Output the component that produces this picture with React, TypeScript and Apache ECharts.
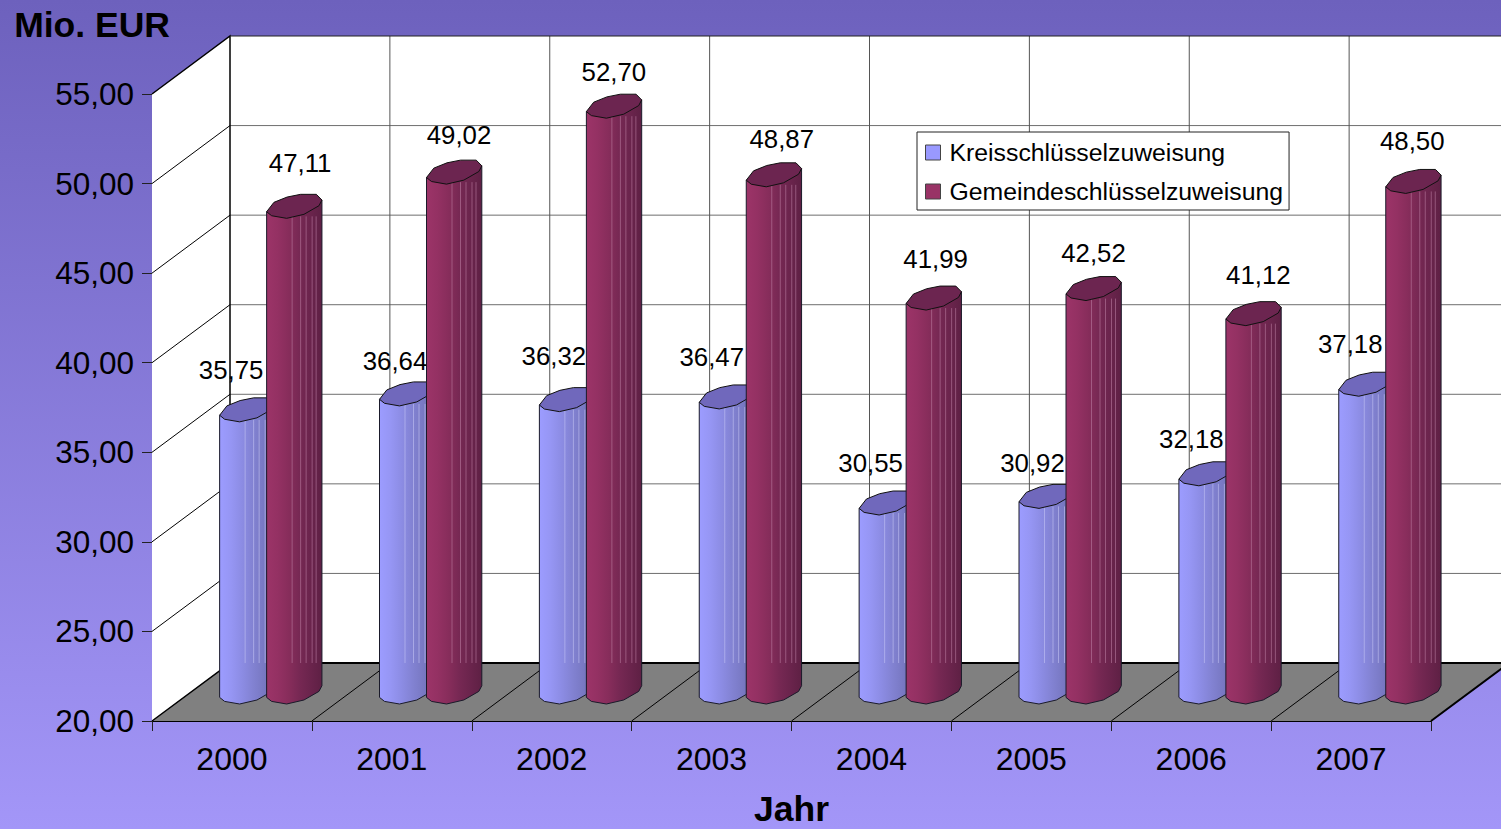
import React, { useEffect, useRef } from "react";
import * as echarts from "echarts";

const years = ["2000", "2001", "2002", "2003", "2004", "2005", "2006", "2007"];
const kreis = [35.75, 36.64, 36.32, 36.47, 30.55, 30.92, 32.18, 37.18];
const gemeinde = [47.11, 49.02, 52.7, 48.87, 41.99, 42.52, 41.12, 48.5];
const seriesNames = ["Kreisschlüsselzuweisung", "Gemeindeschlüsselzuweisung"];

// hand-placed value labels of the original, relative to the cylinder's top centre
const kreisLabelNudge = [[-16, -40], [-12, -33], [-13, -44], [-15, -40], [-16, -40], [-14, -33], [-15, -35], [-16, -40]];
const gemeindeLabelNudge = [[6, -43], [5, -37], [0, -34], [8, -36], [2, -39], [0, -36], [5, -39], [-1, -40]];

const DEPTH_X = 78;
const DEPTH_Y = -58;
const BAR_SHIFT_X = 39.7;
const BAR_SHIFT_Y = -29;

const ringFront = [[-27.5, 5.4], [-22.5, 9.4], [-7.5, 12], [9.8, 8], [24.8, -0.6], [27.8, -6.3]];
const ringBack = [[22.2, -12], [6.5, -12], [-7, -9.3], [-20.2, -4]];
const sheenOffsets = [-2, 6.5, 12, 18, 22];

const fmt = (v: number) => v.toFixed(2).replace(".", ",");
const sans = "Liberation Sans";

function cylinderSeries(
  name: string,
  values: number[],
  nudges: number[][],
  dx: number,
  colors: { swatch: string; top: string; stops: string[]; sheen: string },
  z: number
) {
  return {
    type: "custom",
    name,
    z,
    clip: false,
    encode: { x: 0, y: 1 },
    itemStyle: { color: colors.swatch },
    data: values.map((v, i) => [i, v]),
    renderItem: (params: any, api: any) => {
      const i = api.value(0);
      const v = api.value(1);
      const top = api.coord([i, v]);
      const base = api.coord([i, 20]);
      const cx = top[0] + BAR_SHIFT_X + dx;
      const ty = top[1] + BAR_SHIFT_Y;
      const by = base[1] + BAR_SHIFT_Y;
      const last = ringFront[ringFront.length - 1];
      const bodyPts = [
        [cx + ringFront[0][0], ty + ringFront[0][1]],
        [cx + last[0], ty + last[1]],
        ...ringFront.slice().reverse().map((p) => [cx + p[0], by + p[1]]),
      ];
      const n = colors.stops.length - 1;
      const body = {
        type: "polygon",
        shape: { points: bodyPts },
        style: {
          fill: new echarts.graphic.LinearGradient(
            0, 0, 1, 0,
            colors.stops.map((c, k) => ({ offset: k / n, color: c }))
          ),
          stroke: "#1a1a2a",
          lineWidth: 1,
        },
      };
      const sheens = sheenOffsets.map((o) => ({
        type: "line",
        shape: { x1: cx + o, y1: ty + 10, x2: cx + o, y2: by - 29 },
        style: { stroke: colors.sheen, lineWidth: 1 },
      }));
      const cap = {
        type: "polygon",
        shape: { points: [...ringFront, ...ringBack].map((p) => [cx + p[0], ty + p[1]]) },
        style: { fill: colors.top, stroke: "#111", lineWidth: 1 },
      };
      const nudge = nudges[i];
      const label = {
        type: "text",
        style: {
          text: fmt(v),
          x: cx + nudge[0],
          y: ty + nudge[1],
          align: "center",
          verticalAlign: "middle",
          fontFamily: sans,
          fontSize: 25.8,
          fill: "#000",
        },
      };
      return { type: "group", children: [body, ...sheens, cap, label] };
    },
  };
}

export default function App() {
  const ref = useRef<HTMLDivElement>(null);

  useEffect(() => {
    const chart = echarts.init(ref.current!, undefined, { renderer: "svg" });

    const wallSeries = {
      type: "custom",
      name: "walls",
      z: 1,
      clip: false,
      silent: true,
      encode: { x: 0, y: 1 },
      data: [[0, 20]],
      renderItem: (params: any, api: any) => {
        const c = params.coordSys;
        const L = c.x;
        const R = c.x + c.width;
        const T = c.y;
        const B = c.y + c.height;
        const children: any[] = [];
        children.push({
          type: "polygon",
          shape: { points: [[L + DEPTH_X, T + DEPTH_Y], [R + DEPTH_X, T + DEPTH_Y], [R + DEPTH_X, B + DEPTH_Y], [L + DEPTH_X, B + DEPTH_Y]] },
          style: { fill: "#fff" },
        });
        children.push({
          type: "polygon",
          shape: { points: [[L, T], [L + DEPTH_X, T + DEPTH_Y], [L + DEPTH_X, B + DEPTH_Y], [L, B]] },
          style: { fill: "#fff" },
        });
        children.push({
          type: "polygon",
          shape: { points: [[L, B], [L + DEPTH_X, B + DEPTH_Y], [R + DEPTH_X, B + DEPTH_Y], [R, B]] },
          style: { fill: "#808080" },
        });
        for (let t = 25; t <= 50; t += 5) {
          const y = api.coord([0, t])[1];
          children.push({
            type: "line",
            shape: { x1: L, y1: y, x2: L + DEPTH_X, y2: y + DEPTH_Y },
            style: { stroke: "#000", lineWidth: 1 },
          });
          children.push({
            type: "line",
            shape: { x1: L + DEPTH_X, y1: y + DEPTH_Y, x2: R + DEPTH_X, y2: y + DEPTH_Y },
            style: { stroke: "#6e6e6e", lineWidth: 1 },
          });
        }
        const band = c.width / years.length;
        for (let k = 1; k < years.length; k++) {
          const x = L + k * band;
          children.push({
            type: "line",
            shape: { x1: x + DEPTH_X, y1: T + DEPTH_Y, x2: x + DEPTH_X, y2: B + DEPTH_Y },
            style: { stroke: "#555", lineWidth: 1 },
          });
          children.push({
            type: "line",
            shape: { x1: x, y1: B, x2: x + DEPTH_X, y2: B + DEPTH_Y },
            style: { stroke: "#000", lineWidth: 1 },
          });
        }
        children.push({
          type: "polyline",
          shape: { points: [[L, B], [L + DEPTH_X, B + DEPTH_Y], [L + DEPTH_X, T + DEPTH_Y], [L, T]] },
          style: { stroke: "#000", lineWidth: 1.5, fill: "none" },
        });
        children.push({
          type: "polyline",
          shape: { points: [[L + DEPTH_X, T + DEPTH_Y], [R + DEPTH_X, T + DEPTH_Y]] },
          style: { stroke: "#222", lineWidth: 1, fill: "none" },
        });
        children.push({
          type: "polyline",
          shape: { points: [[L + DEPTH_X, B + DEPTH_Y], [R + DEPTH_X, B + DEPTH_Y], [R, B]] },
          style: { stroke: "#000", lineWidth: 2, fill: "none" },
        });
        return { type: "group", children };
      },
    };

    chart.setOption({
      animation: false,
      backgroundColor: new echarts.graphic.LinearGradient(0, 0, 0, 1, [
        { offset: 0, color: "#6D61BD" },
        { offset: 1, color: "#A396F8" },
      ]),
      grid: { left: 152, right: 70, top: 94, bottom: 108, containLabel: false, outerBoundsMode: "none" },
      legend: {
        show: true,
        data: seriesNames,
        orient: "vertical",
        left: 917,
        top: 132,
        padding: [8, 6, 6, 8],
        itemGap: 14,
        itemWidth: 15,
        itemHeight: 15,
        icon: "rect",
        backgroundColor: "#fff",
        borderColor: "#222",
        borderWidth: 1,
        borderRadius: 0,
        itemStyle: { borderColor: "#444", borderWidth: 1 },
        textStyle: { fontFamily: sans, fontSize: 24.8, color: "#000", padding: [0, 0, 0, 4] },
      },
      xAxis: {
        type: "category",
        data: years,
        name: "Jahr",
        nameLocation: "middle",
        nameGap: 70,
        nameTextStyle: { fontFamily: sans, fontSize: 35.5, fontWeight: "bold", color: "#000" },
        axisLine: { show: true, lineStyle: { color: "#000", width: 1 } },
        axisTick: { show: true, length: 10, lineStyle: { color: "#222" } },
        axisLabel: { fontFamily: sans, fontSize: 32, color: "#000", margin: 22 },
        splitLine: { show: false },
      },
      yAxis: {
        type: "value",
        min: 20,
        max: 55,
        interval: 5,
        name: "Mio. EUR",
        nameLocation: "end",
        nameGap: 69,
        nameTextStyle: { fontFamily: sans, fontSize: 35.5, fontWeight: "bold", color: "#000", align: "right", verticalAlign: "middle", padding: [0, -18, 0, 0] },
        axisLine: { show: true, lineStyle: { color: "#000", width: 1 } },
        axisTick: { show: true, length: 10, lineStyle: { color: "#222" } },
        axisLabel: { fontFamily: sans, fontSize: 31.5, color: "#000", margin: 18, formatter: fmt },
        splitLine: { show: false },
      },
      series: [
        wallSeries,
        cylinderSeries(seriesNames[0], kreis, kreisLabelNudge, -24.5, {
          swatch: "#9999FF",
          top: "#7068BC",
          stops: ["#9C9CFF", "#9696F4", "#8C8CE4", "#8282D2", "#7878C2", "#7070B6"],
          sheen: "rgba(200,200,245,0.55)",
        }, 2),
        cylinderSeries(seriesNames[1], gemeinde, gemeindeLabelNudge, 22.5, {
          swatch: "#993366",
          top: "#6C2550",
          stops: ["#9C3468", "#943163", "#872D5B", "#762853", "#6A244C", "#5E2044"],
          sheen: "rgba(190,130,165,0.55)",
        }, 3),
      ],
    });
    return () => chart.dispose();
  }, []);

  return <div ref={ref} style={{ position: "fixed", left: 0, top: 0, width: 1501, height: 829 }} />;
}
